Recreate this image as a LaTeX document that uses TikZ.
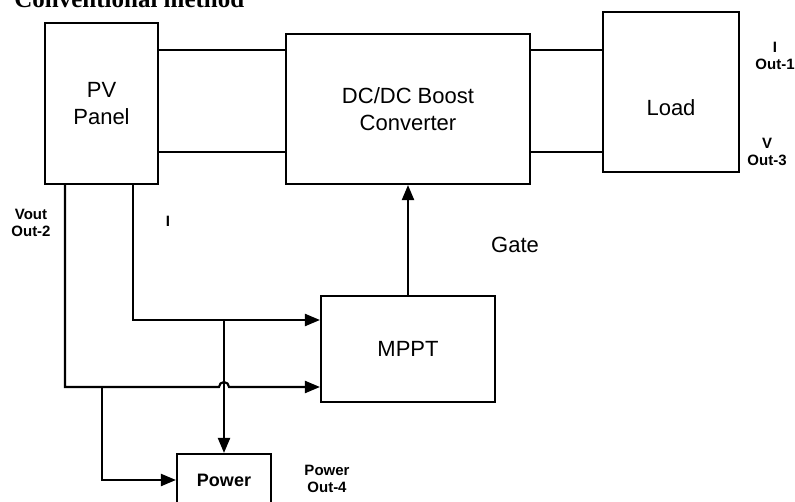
\documentclass[tikz,border=0pt]{standalone}
\usepackage{fontspec}
\setmainfont{Liberation Sans}
\newfontfamily\titlefont{Liberation Serif}
\usetikzlibrary{arrows.meta,positioning}

\begin{document}
\begin{tikzpicture}[x=1pt, y=-1pt, line width=2.1pt,
    every node/.style={font=\fontsize{22}{27}\selectfont},
    block/.style={draw, line width=2.1pt, align=center, inner sep=0pt},
    tag/.style={font=\fontsize{15}{17}\selectfont\bfseries, align=center},
    feed/.style={-{Triangle[length=15pt,width=12pt]}}]
  \clip (0,0) rectangle (795,502);
  \useasboundingbox (0,0) rectangle (795,502);

  % ── Blocks ────────────────────────────────────────────────────────────
  \node[block, minimum width=113pt, minimum height=161pt] (pv) at (101.5,103.5) {PV\\Panel};
  \node[block, minimum width=244pt, minimum height=150pt] (conv) at (408,109) {DC/DC Boost\\Converter};
  \node[block, minimum width=136pt, minimum height=160pt,
        label={[yshift=-16pt]center:Load}] (load) at (671,92) {};
  \node[block, minimum width=174pt, minimum height=106pt] (mppt) at (408,349) {MPPT};
  \node[block, minimum width=94pt, minimum height=52pt,
        font=\fontsize{18}{20}\selectfont\bfseries] (pwr) at (224,480) {Power};

  % ── Power path ────────────────────────────────────────────────────────
  \foreach \yy in {50,152} {
    \draw (pv.east |- 0,\yy) -- (conv.west |- 0,\yy);
    \draw (conv.east |- 0,\yy) -- (load.west |- 0,\yy);
  }

  % gate signal
  \draw[feed] (mppt.north) -- (conv.south);
  \node (gate) at (515,245) {Gate};

  % measured current
  \coordinate (itap) at (pwr.north |- 0,320);
  \draw[feed] (pv.south -| 133,0) |- (mppt.west |- 0,320);
  \draw[feed] (itap) -- (pwr.north);

  % measured voltage, hops over the current branch
  \coordinate (vtap) at (102,387);
  \coordinate (hop) at (pwr.north |- 0,387);
  \draw[feed] (pv.south -| 65,0) |- ([xshift=-5pt]hop)
    arc[start angle=180, end angle=360, radius=5] -- (mppt.west |- 0,387);
  \draw[feed] (vtap) |- (pwr.west);

  % ── Labels ────────────────────────────────────────────────────────────
  \node[tag] (vlbl) at (31,223) {Vout\\Out-2};
  \node[tag] (ilbl) at (168,221) {I};
  \node[tag] (iout) at (775,56) {I\\Out-1};
  \node[tag] (vout) at (767,152) {V\\Out-3};
  \node[tag] (pout) at (327,479) {Power\\Out-4};
  \node[anchor=base west, font=\fontsize{25}{27}\selectfont\titlefont\bfseries] (title) at (10,8) {Conventional method};
\end{tikzpicture}
\end{document}
